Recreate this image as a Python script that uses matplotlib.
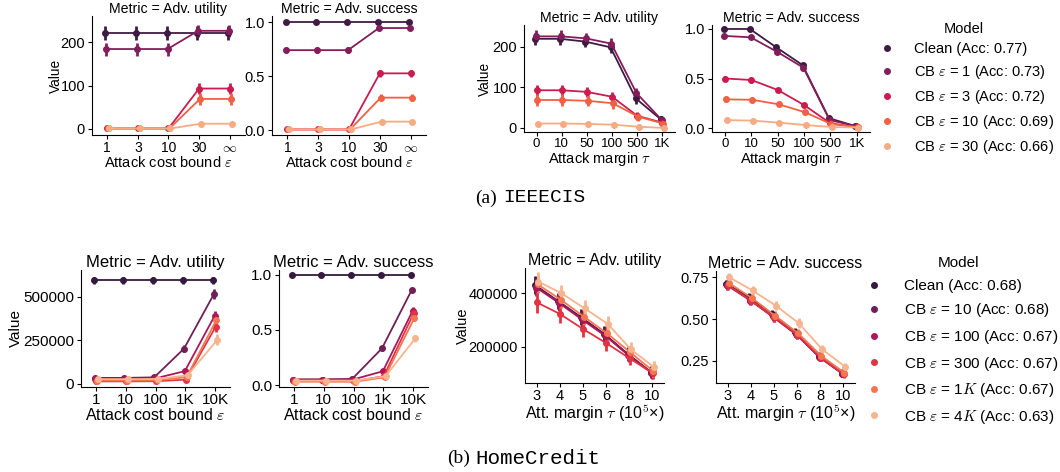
import matplotlib
matplotlib.use("Agg")
import matplotlib.pyplot as plt
import seaborn as sns
from matplotlib.lines import Line2D

plt.rcParams['font.family'] = ['Liberation Sans', 'DejaVu Sans']
plt.rcParams['mathtext.fontset'] = 'cm'

# ---- data: IEEECIS ----
ieee_models = ["Clean (Acc: 0.77)",
               "CB $\\varepsilon$ = 1 (Acc: 0.73)",
               "CB $\\varepsilon$ = 3 (Acc: 0.72)",
               "CB $\\varepsilon$ = 10 (Acc: 0.69)",
               "CB $\\varepsilon$ = 30 (Acc: 0.66)"]
ieee_eps_ticks = ["1", "3", "10", "30", "$\\infty$"]
ieee_tau_ticks = ["0", "10", "50", "100", "500", "1K"]

ieee_util_eps = [[221, 221, 221, 221, 221],
                 [184, 184, 184, 226, 226],
                 [1, 1, 1, 93, 93],
                 [1, 1, 1, 69, 69],
                 [1, 1, 1, 12, 12]]
ieee_util_eps_err = [[16, 16, 16, 16, 16],
                     [15, 15, 15, 14, 14],
                     [1, 1, 1, 13, 13],
                     [1, 1, 1, 14, 14],
                     [1, 1, 1, 2, 2]]
ieee_succ_eps = [[1.0, 1.0, 1.0, 1.0, 1.0],
                 [0.74, 0.74, 0.74, 0.945, 0.945],
                 [0.005, 0.005, 0.005, 0.525, 0.525],
                 [0.005, 0.005, 0.005, 0.30, 0.30],
                 [0.005, 0.005, 0.005, 0.078, 0.078]]
ieee_succ_eps_err = [[0.005, 0.005, 0.005, 0.005, 0.005],
                     [0.025, 0.025, 0.025, 0.015, 0.015],
                     [0.005, 0.005, 0.005, 0.03, 0.03],
                     [0.005, 0.005, 0.005, 0.03, 0.03],
                     [0.005, 0.005, 0.005, 0.012, 0.012]]
ieee_util_tau = [[220, 220, 213, 199, 73, 21],
                 [226, 226, 221, 208, 86, 20],
                 [93, 93, 89, 77, 30, 13],
                 [69, 69, 67, 61, 28, 11],
                 [11, 11, 10, 8, 3, 0]]
ieee_util_tau_err = [[15, 15, 14, 14, 13, 8],
                     [15, 15, 14, 14, 13, 8],
                     [13, 13, 12, 12, 10, 6],
                     [15, 15, 14, 13, 10, 6],
                     [2, 2, 2, 2, 2, 1]]
ieee_succ_tau = [[1.0, 1.0, 0.815, 0.636, 0.10, 0.02],
                 [0.93, 0.916, 0.77, 0.61, 0.08, 0.02],
                 [0.50, 0.485, 0.384, 0.232, 0.047, 0.01],
                 [0.29, 0.285, 0.24, 0.16, 0.04, 0.01],
                 [0.08, 0.075, 0.054, 0.03, 0.01, 0.005]]
ieee_succ_tau_err = [[0.005, 0.005, 0.015, 0.015, 0.01, 0.005],
                     [0.01, 0.015, 0.02, 0.02, 0.01, 0.005],
                     [0.03, 0.03, 0.025, 0.02, 0.01, 0.005],
                     [0.025, 0.025, 0.02, 0.015, 0.01, 0.005],
                     [0.01, 0.01, 0.01, 0.005, 0.005, 0.005]]

# ---- data: HomeCredit ----
hc_models = ["Clean (Acc: 0.68)",
             "CB $\\varepsilon$ = 10 (Acc: 0.68)",
             "CB $\\varepsilon$ = 100 (Acc: 0.67)",
             "CB $\\varepsilon$ = 300 (Acc: 0.67)",
             "CB $\\varepsilon$ = 1$K$ (Acc: 0.67)",
             "CB $\\varepsilon$ = 4$K$ (Acc: 0.63)"]
hc_eps_ticks = ["1", "10", "100", "1K", "10K"]
hc_tau_ticks = ["3", "4", "5", "6", "8", "10"]

hc_util_eps = [[595000, 595000, 595000, 595000, 595000],
               [35000, 35000, 38000, 203000, 515000],
               [30000, 30000, 32000, 74000, 392000],
               [15000, 15000, 16000, 25000, 328000],
               [20000, 20000, 21000, 40000, 368000],
               [28000, 28000, 29000, 50000, 254000]]
hc_util_eps_err = [[22000, 22000, 22000, 22000, 22000],
                   [8000, 8000, 8000, 22000, 28000],
                   [8000, 8000, 8000, 15000, 30000],
                   [6000, 6000, 6000, 8000, 30000],
                   [6000, 6000, 6000, 10000, 30000],
                   [8000, 8000, 8000, 12000, 32000]]
hc_succ_eps = [[1.0, 1.0, 1.0, 1.0, 1.0],
               [0.05, 0.05, 0.055, 0.333, 0.864],
               [0.05, 0.05, 0.05, 0.125, 0.675],
               [0.035, 0.035, 0.035, 0.08, 0.65],
               [0.03, 0.03, 0.03, 0.07, 0.61],
               [0.04, 0.04, 0.04, 0.08, 0.424]]
hc_succ_eps_err = [[0.005, 0.005, 0.005, 0.005, 0.005],
                   [0.01, 0.01, 0.01, 0.025, 0.02],
                   [0.01, 0.01, 0.01, 0.02, 0.03],
                   [0.01, 0.01, 0.01, 0.015, 0.03],
                   [0.01, 0.01, 0.01, 0.015, 0.03],
                   [0.01, 0.01, 0.01, 0.015, 0.03]]
hc_util_tau = [[430000, 370000, 310000, 248000, 175000, 108000],
               [425000, 368000, 305000, 245000, 172000, 105000],
               [420000, 362000, 300000, 240000, 168000, 103000],
               [365000, 322000, 266000, 214000, 158000, 103000],
               [432000, 375000, 312000, 250000, 180000, 110000],
               [442000, 399000, 343000, 285000, 191000, 125000]]
hc_util_tau_err = [[32000, 30000, 30000, 28000, 25000, 20000],
                   [32000, 30000, 30000, 28000, 25000, 20000],
                   [32000, 30000, 30000, 28000, 25000, 20000],
                   [38000, 32000, 30000, 28000, 25000, 20000],
                   [32000, 30000, 30000, 28000, 25000, 20000],
                   [35000, 32000, 32000, 30000, 28000, 22000]]
hc_succ_tau = [[0.71, 0.63, 0.53, 0.42, 0.28, 0.18],
               [0.705, 0.615, 0.515, 0.41, 0.275, 0.175],
               [0.70, 0.61, 0.51, 0.405, 0.27, 0.172],
               [0.70, 0.61, 0.51, 0.405, 0.27, 0.17],
               [0.715, 0.625, 0.52, 0.415, 0.28, 0.18],
               [0.748, 0.67, 0.58, 0.475, 0.32, 0.216]]
hc_succ_tau_err = [[0.025, 0.025, 0.025, 0.025, 0.022, 0.02],
                   [0.025, 0.025, 0.025, 0.025, 0.022, 0.02],
                   [0.025, 0.025, 0.025, 0.025, 0.022, 0.02],
                   [0.025, 0.025, 0.025, 0.025, 0.022, 0.02],
                   [0.025, 0.025, 0.025, 0.025, 0.022, 0.02],
                   [0.028, 0.028, 0.028, 0.028, 0.025, 0.022]]

ieee_colors = sns.color_palette("rocket", len(ieee_models))
hc_colors = sns.color_palette("rocket", len(hc_models))

fig = plt.figure(figsize=(10.6, 4.72), dpi=100)


# fs = (title, xlabel, xticks, yticks, ylabel)
def panel(rect, ticks, series, errs, colors, ylim, yticks, yticklabels,
          xlabel, title, fs, ylabel_x=None):
    ax = fig.add_axes(rect)
    n = len(series)
    for i, (vals, err) in enumerate(zip(series, errs)):
        off = (i - (n - 1) / 2) * 0.03
        xs = [k + off for k in range(len(vals))]
        ax.errorbar(xs, vals, yerr=err, color=colors[i], marker='o', ms=4,
                    lw=1.3, elinewidth=2, capsize=0)
    ax.set_xticks(range(len(ticks)))
    ax.set_xticklabels(ticks)
    ax.set_xlim(-0.5, len(ticks) - 0.5)
    ax.set_ylim(*ylim)
    ax.set_yticks(yticks)
    ax.set_yticklabels(yticklabels)
    for s in ['top', 'right']:
        ax.spines[s].set_visible(False)
    ax.tick_params(axis='y', labelsize=fs[3], length=3, pad=2)
    ax.tick_params(axis='x', labelsize=fs[2], length=3, pad=1.5)
    ax.set_xlabel(xlabel, fontsize=fs[1], labelpad=0)
    ax.set_title(title, fontsize=fs[0], pad=2)
    if ylabel_x is not None:
        ax.set_ylabel("Value", fontsize=fs[4])
        ax.yaxis.set_label_coords(ylabel_x, 0.5)
    return ax


eps_lbl = "Attack cost bound $\\varepsilon$"
tau_lbl = "Attack margin $\\tau$"
att_lbl = "Att. margin $\\tau$ (10$^5$×)"
t_util = "Metric = Adv. utility"
t_succ = "Metric = Adv. success"

fs_a1 = (10.2, 10.5, 10, 10.5, 9.8)
fs_a2 = (10.2, 10.5, 9.5, 10.5, 9.8)
fs_b1 = (12, 11.5, 11, 11, 11)
fs_b2 = (11.5, 11.5, 10.5, 10.5, 10.5)

panel([0.0868, 0.714, 0.1443, 0.252], ieee_eps_ticks, ieee_util_eps,
      ieee_util_eps_err, ieee_colors, (-14, 260), [0, 100, 200],
      ["0", "100", "200"], eps_lbl, t_util, fs_a1, -0.19)
panel([0.2566, 0.714, 0.1453, 0.252], ieee_eps_ticks, ieee_succ_eps,
      ieee_succ_eps_err, ieee_colors, (-0.046, 1.056), [0, 0.5, 1.0],
      ["0.0", "0.5", "1.0"], eps_lbl, t_succ, fs_a1)
panel([0.4943, 0.7203, 0.1425, 0.2267], ieee_tau_ticks, ieee_util_tau,
      ieee_util_tau_err, ieee_colors, (-10, 254), [0, 100, 200],
      ["0", "100", "200"], tau_lbl, t_util, fs_a2, -0.21)
panel([0.6717, 0.7203, 0.149, 0.2267], ieee_tau_ticks, ieee_succ_tau,
      ieee_succ_tau_err, ieee_colors, (-0.04, 1.04), [0, 0.5, 1.0],
      ["0.0", "0.5", "1.0"], tau_lbl, t_succ, fs_a2)

panel([0.0764, 0.1801, 0.1406, 0.2479], hc_eps_ticks, hc_util_eps,
      hc_util_eps_err, hc_colors, (-17200, 655000), [0, 250000, 500000],
      ["0", "250000", "500000"], eps_lbl, t_util, fs_b1, -0.389)
panel([0.2632, 0.1801, 0.1406, 0.2479], hc_eps_ticks, hc_succ_eps,
      hc_succ_eps_err, hc_colors, (-0.018, 1.045), [0, 0.5, 1.0],
      ["0.0", "0.5", "1.0"], eps_lbl, t_succ, fs_b1)
panel([0.4953, 0.1886, 0.1311, 0.2436], hc_tau_ticks, hc_util_tau,
      hc_util_tau_err, hc_colors, (66700, 492600), [200000, 400000],
      ["200000", "400000"], att_lbl, t_util, fs_b2, -0.396)
panel([0.6755, 0.1886, 0.1311, 0.2373], hc_tau_ticks, hc_succ_tau,
      hc_succ_tau_err, hc_colors, (0.119, 0.786), [0.25, 0.5, 0.75],
      ["0.25", "0.50", "0.75"], att_lbl, t_succ, fs_b2)

# legends
h1 = [Line2D([], [], ls='none', marker='o', ms=4, color=c) for c in ieee_colors]
fig.legend(h1, ieee_models, title="Model", loc='upper left',
           bbox_to_anchor=(0.811, 0.982), frameon=False, fontsize=10.5,
           title_fontsize=10.5, labelspacing=0.47, handletextpad=0.85)
h2 = [Line2D([], [], ls='none', marker='o', ms=4, color=c) for c in hc_colors]
fig.legend(h2, hc_models, title="Model", loc='upper left',
           bbox_to_anchor=(0.797, 0.486), frameon=False, fontsize=11,
           title_fontsize=11, labelspacing=0.56, handletextpad=0.95)

# sub-captions
fig.text(0.469, 1 - 198 / 472, "(a)", ha='right', va='center', fontsize=14,
         family='Liberation Serif')
fig.text(0.4745, 1 - 198 / 472, "IEEECIS", ha='left', va='center', fontsize=14,
         family='Liberation Mono')
fig.text(0.4434, 1 - 458 / 472, "(b)", ha='right', va='center', fontsize=14,
         family='Liberation Serif')
fig.text(0.448, 1 - 458 / 472, "HomeCredit", ha='left', va='center', fontsize=15,
         family='Liberation Mono')

fig.savefig("out.png", dpi=100)
